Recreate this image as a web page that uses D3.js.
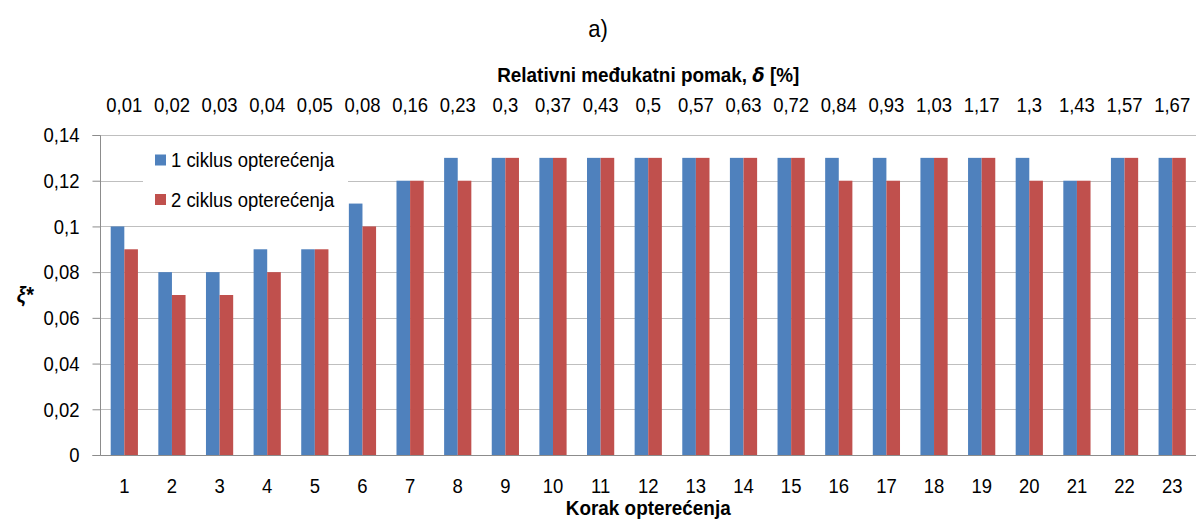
<!DOCTYPE html>
<html>
<head>
<meta charset="utf-8">
<script src="https://cdn.jsdelivr.net/npm/d3@7"></script>
<style>
  html, body { margin: 0; padding: 0; background: #fff; }
  svg { display: block; font-family: "Liberation Sans", Arial, sans-serif; }
</style>
</head>
<body>
<svg id="chart" width="1196" height="520"></svg>
<script>
// ---- data ----
const categories = ["1","2","3","4","5","6","7","8","9","10","11","12","13","14","15","16","17","18","19","20","21","22","23"];
const driftLabels = ["0,01","0,02","0,03","0,04","0,05","0,08","0,16","0,23","0,3","0,37","0,43","0,5","0,57","0,63","0,72","0,84","0,93","1,03","1,17","1,3","1,43","1,57","1,67"];
const cycle1 = [0.10,0.08,0.08,0.09,0.09,0.11,0.12,0.13,0.13,0.13,0.13,0.13,0.13,0.13,0.13,0.13,0.13,0.13,0.13,0.13,0.12,0.13,0.13];
const cycle2 = [0.09,0.07,0.07,0.08,0.09,0.10,0.12,0.12,0.13,0.13,0.13,0.13,0.13,0.13,0.13,0.12,0.12,0.13,0.13,0.12,0.12,0.13,0.13];
const seriesNames = ["1 ciklus optere\u0107enja","2 ciklus optere\u0107enja"];
const seriesColors = ["#4F81BD","#C0504D"];
const yTicks = [0,0.02,0.04,0.06,0.08,0.1,0.12,0.14];
const titleText = "a)";
const topAxisTitle = "Relativni me\u0111ukatni pomak, ";
const bottomAxisTitle = "Korak optere\u0107enja";
const yAxisTitle = "\u03BE*";

// ---- layout ----
const pLeft = 100.5, pRight = 1196, pTop = 135, pBottom = 455;
const svg = d3.select("#chart");
const fontSize = 21;
const SX = 0.88;   // horizontal condensing (narrow sans look)

function narrow(sel, k) {
  sel.each(function () {
    const t = d3.select(this);
    const xv = +t.attr("x") || 0;
    t.attr("x", xv / k).attr("transform", `scale(${k},1)`);
  });
}

const x = d3.scaleBand().domain(categories).range([pLeft, pRight]).paddingInner(0).paddingOuter(0);
const y = d3.scaleLinear().domain([0, 0.14]).range([pBottom, pTop]);
const bw = x.bandwidth() / 3.5;
const xs = d3.scaleBand().domain([0,1]).range([0, 2 * bw]);
const offset = (x.bandwidth() - 2 * bw) / 2;

// gridlines
svg.append("g")
  .selectAll("line")
  .data(yTicks.filter(d => d > 0))
  .join("line")
  .attr("x1", pLeft).attr("x2", pRight)
  .attr("y1", d => Math.round(y(d)) + 0.5).attr("y2", d => Math.round(y(d)) + 0.5)
  .attr("stroke", "#bfbfbf").attr("stroke-width", 1);

// legend background box (covers gridline)
const lg = svg.append("g");
lg.append("rect").attr("x", 143).attr("y", 140).attr("width", 205).attr("height", 78).attr("fill", "#fff");

// bars
const data = categories.map((c, i) => ({ c, v: [cycle1[i], cycle2[i]] }));
const groups = svg.append("g").selectAll("g").data(data).join("g")
  .attr("transform", d => `translate(${x(d.c) + offset},0)`);
groups.selectAll("rect")
  .data(d => d.v.map((v, k) => ({ v, k })))
  .join("rect")
  .attr("x", d => xs(d.k))
  .attr("width", xs.bandwidth())
  .attr("y", d => y(d.v))
  .attr("height", d => y(0) - y(d.v))
  .attr("fill", d => seriesColors[d.k]);

// y axis
const yAxis = svg.append("g")
  .attr("transform", `translate(${pLeft},0)`)
  .call(d3.axisLeft(y).tickValues(yTicks).tickSize(8).tickPadding(13)
    .tickFormat(d => String(+d.toFixed(2)).replace(".", ",")));
yAxis.select(".domain").attr("stroke", "#8c8c8c").attr("d", `M-8,${pTop + 0.5}H0V${pBottom + 0.5}H-8`);
yAxis.selectAll(".tick line").attr("stroke", "#8c8c8c");
yAxis.selectAll("text").attr("font-size", fontSize).attr("fill", "#000").attr("font-family", "Liberation Sans, Arial, sans-serif").call(narrow, SX);

// x axis (bottom)
const xAxis = svg.append("g")
  .attr("transform", `translate(0,${pBottom + 0.5})`)
  .call(d3.axisBottom(x).tickSize(0).tickPadding(23));
xAxis.select(".domain").attr("stroke", "#8c8c8c").attr("d", `M${pLeft},0H${pRight}`);
xAxis.selectAll("text").attr("font-size", fontSize).attr("fill", "#000").attr("font-family", "Liberation Sans, Arial, sans-serif").call(narrow, SX);

// top axis (drift)
const tAxis = svg.append("g")
  .attr("transform", `translate(0,${pTop})`)
  .call(d3.axisTop(x).tickSize(0).tickPadding(23).tickFormat((d, i) => driftLabels[i]));
tAxis.select(".domain").remove();
tAxis.selectAll("text").attr("font-size", fontSize).attr("fill", "#000").attr("font-family", "Liberation Sans, Arial, sans-serif").call(narrow, SX);

// titles
const cx = (pLeft + pRight) / 2;
svg.append("text").attr("x", 598).attr("y", 37).attr("text-anchor", "middle")
  .attr("font-size", 24).call(narrow, 0.92).text(titleText);

const tt = svg.append("text").attr("x", cx).attr("y", 82).attr("text-anchor", "middle")
  .attr("font-size", fontSize).attr("font-weight", "bold").call(narrow, 0.9);
tt.append("tspan").text(topAxisTitle);
tt.append("tspan").attr("font-style", "italic").attr("font-family", "DejaVu Sans, sans-serif").attr("font-size", 20).text("\u03B4");
tt.append("tspan").text(" [%]");

svg.append("text").attr("x", cx).attr("y", 515).attr("text-anchor", "middle")
  .attr("font-size", fontSize).attr("font-weight", "bold").call(narrow, 0.9).text(bottomAxisTitle);

svg.append("text").attr("x", 25).attr("y", 302).attr("text-anchor", "middle")
  .attr("font-size", 22).attr("font-weight", "bold").attr("font-style", "italic").call(narrow, 0.9).text(yAxisTitle);

// legend
seriesNames.forEach((name, i) => {
  const yy = 160 + i * 39.5;
  lg.append("rect").attr("x", 155).attr("y", yy - 5.5).attr("width", 11).attr("height", 11).attr("fill", seriesColors[i]);
  lg.append("text").attr("x", 171).attr("y", yy + 7.5).attr("font-size", fontSize).attr("fill", "#000").call(narrow, SX).text(name);
});
</script>
</body>
</html>
